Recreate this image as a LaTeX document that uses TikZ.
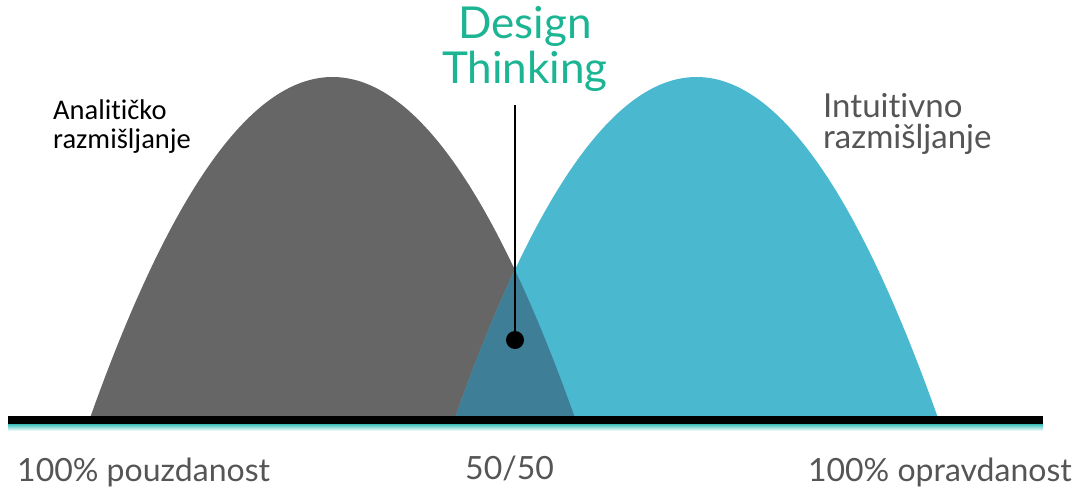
\documentclass[tikz,border=0pt]{standalone}
\usepackage{fontspec}
\setmainfont{Lato}[Ligatures={NoCommon}]
\newfontfamily\calfont{Carlito}[Ligatures={NoCommon}]
\begin{document}
\begin{tikzpicture}[x=1pt,y=-1pt,
  lbl/.style={text=txtgray, font=\fontsize{32}{36}\selectfont, inner sep=0pt},
  side/.style={text=txtgray, font=\fontsize{33}{31}\selectfont, inner sep=0pt, align=left},
]
\definecolor{grayhill}{HTML}{666666}
\definecolor{bluehill}{HTML}{4AB8CF}
\definecolor{overlap}{HTML}{3E7E96}
\definecolor{teal}{HTML}{1BB594}
\definecolor{txtgray}{HTML}{555555}
\definecolor{glow}{HTML}{1FB5B0}
\useasboundingbox (0,0) rectangle (1083,492);
% hills
\fill[grayhill] plot[domain=90:575, samples=120] (\x, {418-341*(1-((\x-332.5)/242.5)^2)}) -- cycle;
\fill[bluehill] plot[domain=455:938, samples=120] (\x, {418-341*(1-((\x-696.5)/241.5)^2)}) -- cycle;
\begin{scope}
\clip plot[domain=90:575, samples=120] (\x, {418-341*(1-((\x-332.5)/242.5)^2)}) -- cycle;
\fill[overlap] plot[domain=455:938, samples=120] (\x, {418-341*(1-((\x-696.5)/241.5)^2)}) -- cycle;
\end{scope}
% base line
\shade[top color=glow, bottom color=white] (8,423) rectangle (1043,431);
\fill[black] (8,416) rectangle (1043,424);
% title
\node[text=teal, font=\fontsize{44}{45}\selectfont, align=center, inner sep=0pt, anchor=base] (title) at (525,84) {Design\\Thinking};
\coordinate (ltop) at (515,105);
\node[circle, fill=black, minimum size=18pt, inner sep=0pt] (dot) at (515,340) {};
\draw[black, line width=1.5pt] (ltop) -- (dot.center);
% side labels
\node[text=black, font=\calfont\fontsize{28.5}{29}\selectfont, align=left, inner sep=0pt, anchor=base west] (ana) at (53,148) {Analitičko\\razmišljanje};
\node[side, anchor=base west] (intu) at (823,148) {Intuitivno\\razmišljanje};
% bottom labels
\node[lbl, anchor=base west] (l1) at (17,481) {100\% pouzdanost};
\node[lbl, anchor=base west] (l2) at (465,479) {50/50};
\node[lbl, anchor=base east] (l3) at (1072,481) {100\% opravdanost};
\end{tikzpicture}
\end{document}
